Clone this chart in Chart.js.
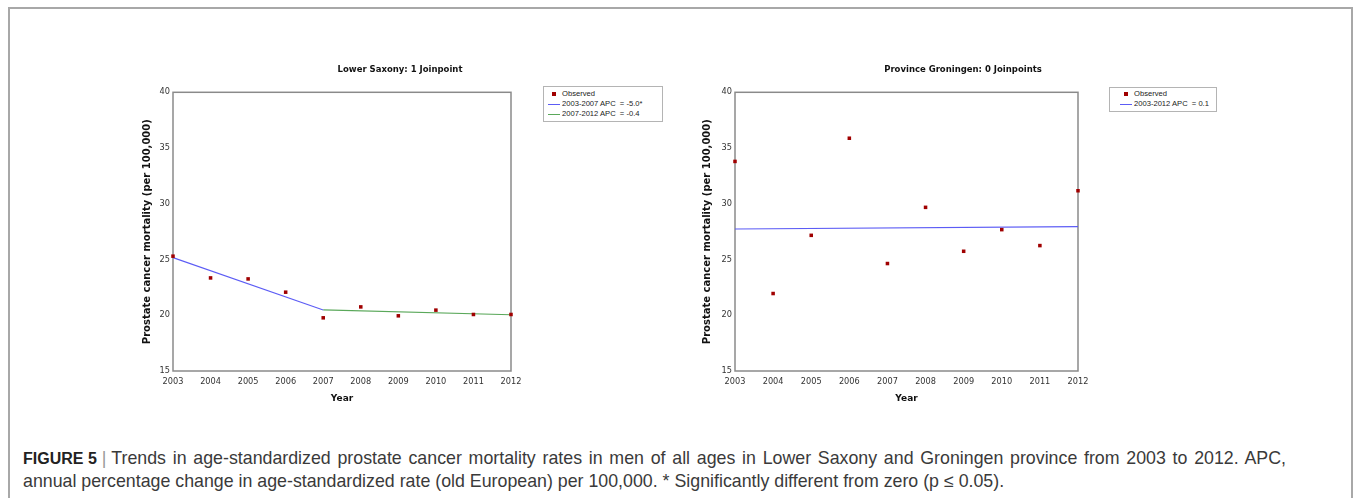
<!DOCTYPE html>
<html>
<head>
<meta charset="utf-8">
<script src="https://cdn.jsdelivr.net/npm/chart.js@4"></script>
<style>
  body { margin: 0; background: #fff; width: 1355px; height: 498px; overflow: hidden; position: relative; }
  #frame { position: absolute; left: 8px; top: 7px; width: 1345px; height: 520px; border: 2px solid #a8a8a8; box-sizing: border-box; }
  canvas { position: absolute; }
  .legend { position: absolute; border: 1px solid #b4b4b4; box-sizing: border-box; font: 7.6px "Liberation Sans", Arial, sans-serif; color: #222; background: #fff; }
  .legend .row { position: absolute; height: 10px; line-height: 10px; white-space: pre; }
  .legend .sym { position: absolute; }
  #caption { position: absolute; left: 23px; top: 447px; font: 17.8px "Liberation Sans", Arial, sans-serif; color: #3a3a3a; line-height: 23px; white-space: nowrap; }
  #caption b { color: #222; font-size: 16px; }
  #caption .bar { color: #999; }
  #caption .first { word-spacing: 1.8px; }
</style>
</head>
<body>
<div id="frame"></div>
<canvas id="lower-saxony" width="620" height="360" style="left:90px; top:55px;"></canvas>
<canvas id="groningen" width="626" height="360" style="left:650px; top:55px;"></canvas>
<div id="legend-ls" class="legend" style="left:543px; top:86px; width:120px; height:36px;"></div>
<div id="legend-gr" class="legend" style="left:1109px; top:87px; width:108px; height:25px;"></div>
<div id="caption"><b>FIGURE 5</b> <span class="bar">|</span> <span class="first">Trends in age-standardized prostate cancer mortality rates in men of all ages in Lower Saxony and Groningen province from 2003 to 2012. APC,</span><br>annual percentage change in age-standardized rate (old European) per 100,000. * Significantly different from zero (p &le; 0.05).</div>
<script>
// Data
const years = [2003, 2004, 2005, 2006, 2007, 2008, 2009, 2010, 2011, 2012];
const yTicks = [15, 20, 25, 30, 35, 40];

const lowerSaxonyObserved = [25.3, 23.35, 23.26, 22.07, 19.77, 20.75, 19.95, 20.46, 20.07, 20.07];
const lowerSaxonyFit1Years = [2003, 2007];
const lowerSaxonyFit1 = [25.17, 20.48];
const lowerSaxonyFit2Years = [2007, 2012];
const lowerSaxonyFit2 = [20.48, 20.04];

const groningenObserved = [33.8, 21.95, 27.17, 35.88, 24.64, 29.68, 25.74, 27.68, 26.25, 31.17];
const groningenFitYears = [2003, 2012];
const groningenFit = [27.74, 27.95];

const lowerSaxonyTitle = 'Lower Saxony: 1 Joinpoint';
const groningenTitle = 'Province Groningen: 0 Joinpoints';
const lowerSaxonyLabels = ['Observed', '2003-2007 APC  = -5.0*', '2007-2012 APC  = -0.4'];
const groningenLabels = ['Observed', '2003-2012 APC  = 0.1'];

const observedColor = '#a00000';
const blueLine = '#5c5cf5';
const greenLine = '#5aa85a';

Chart.defaults.font.family = '"DejaVu Sans", Verdana, sans-serif';
Chart.defaults.color = '#333';

// helper to pair years with values
function pts(xs, ys) {
  return xs.map((x, i) => ({ x: x, y: ys[i] }));
}

// plot frame (all four sides) drawn under the points
const framePlugin = {
  id: 'frame',
  beforeDatasetsDraw(chart) {
    const a = chart.chartArea;
    const ctx = chart.ctx;
    ctx.save();
    ctx.strokeStyle = '#8a8a8a';
    ctx.lineWidth = 1.5;
    ctx.strokeRect(a.left, a.top, a.right - a.left, a.bottom - a.top);
    ctx.restore();
  }
};

function makeChart(id, title, datasets, leftWidth, rightWidth) {
  const ctx = document.getElementById(id).getContext('2d');
  return new Chart(ctx, {
    type: 'scatter',
    data: { datasets: datasets },
    options: {
      responsive: false,
      animation: false,
      devicePixelRatio: 1,
      layout: { padding: 0 },
      plugins: {
        legend: { display: false },
        tooltip: { enabled: false },
        title: {
          display: true,
          text: title,
          color: '#111',
          font: { size: 8.5, weight: 'bold' },
          padding: { top: 9.2, bottom: 17.9 }
        }
      },
      scales: {
        x: {
          type: 'linear',
          min: 2003,
          max: 2012,
          grid: { display: false, drawTicks: false },
          border: { display: false },
          ticks: {
            stepSize: 1,
            padding: 6,
            color: '#333',
            font: { size: 8.2 },
            maxRotation: 0,
            autoSkip: false,
            callback: v => String(v)
          },
          title: {
            display: true,
            text: 'Year',
            color: '#111',
            font: { size: 9, weight: 'bold' },
            padding: { top: 0, bottom: 11 }
          },
          afterFit: s => { s.height = 44; }
        },
        y: {
          type: 'linear',
          position: 'left',
          min: yTicks[0],
          max: yTicks[yTicks.length - 1],
          grid: { display: false, drawTicks: false },
          border: { display: false },
          afterBuildTicks: s => { s.ticks = yTicks.map(v => ({ value: v })); },
          ticks: {
            padding: 3,
            color: '#333',
            font: { size: 8.2 }
          },
          title: {
            display: true,
            text: 'Prostate cancer mortality (per 100,000)',
            color: '#111',
            font: { size: 10, weight: 'bold' },
            padding: { top: 51, bottom: 0 }
          },
          afterFit: s => { s.width = leftWidth; }
        },
        pad: {
          type: 'linear',
          position: 'right',
          grid: { display: false },
          border: { display: false },
          ticks: { display: false },
          afterFit: s => { s.width = rightWidth; }
        }
      }
    },
    plugins: [framePlugin]
  });
}

function observedSet(values) {
  return {
    label: 'Observed',
    data: pts(years, values),
    showLine: false,
    pointStyle: 'rect',
    pointRadius: 2.5,
    backgroundColor: observedColor,
    borderColor: observedColor,
    borderWidth: 0,
    clip: false,
    order: 0
  };
}

function fitSet(label, xs, ys, color) {
  return {
    label: label,
    data: pts(xs, ys),
    showLine: true,
    pointRadius: 0,
    borderColor: color,
    borderWidth: 1.1,
    backgroundColor: color,
    clip: false,
    order: 1
  };
}

const lowerSaxonyChart = makeChart('lower-saxony', lowerSaxonyTitle, [
  observedSet(lowerSaxonyObserved),
  fitSet(lowerSaxonyLabels[1], lowerSaxonyFit1Years, lowerSaxonyFit1, blueLine),
  fitSet(lowerSaxonyLabels[2], lowerSaxonyFit2Years, lowerSaxonyFit2, greenLine)
], 83, 199);

const groningenChart = makeChart('groningen', groningenTitle, [
  observedSet(groningenObserved),
  fitSet(groningenLabels[1], groningenFitYears, groningenFit, blueLine)
], 85, 198);

// boxed legends built from the chart datasets
function buildLegend(boxId, chart, labels, symX, textX, topPad) {
  const box = document.getElementById(boxId);
  chart.data.datasets.forEach((ds, i) => {
    const rowTop = topPad + i * 10;
    const sym = document.createElement('div');
    sym.className = 'sym';
    if (ds.showLine) {
      sym.style.left = (symX - 6) + 'px';
      sym.style.top = (rowTop + 5) + 'px';
      sym.style.width = '12px';
      sym.style.height = '1px';
      sym.style.background = ds.borderColor;
    } else {
      sym.style.left = (symX - 2) + 'px';
      sym.style.top = (rowTop + 3) + 'px';
      sym.style.width = '4px';
      sym.style.height = '4px';
      sym.style.background = ds.backgroundColor;
    }
    box.appendChild(sym);
    const row = document.createElement('div');
    row.className = 'row';
    row.style.left = textX + 'px';
    row.style.top = rowTop + 'px';
    row.textContent = labels[i];
    box.appendChild(row);
  });
}

buildLegend('legend-ls', lowerSaxonyChart, lowerSaxonyLabels, 10, 18, 1.5);
buildLegend('legend-gr', groningenChart, groningenLabels, 16, 24, 1);
</script>
</body>
</html>
